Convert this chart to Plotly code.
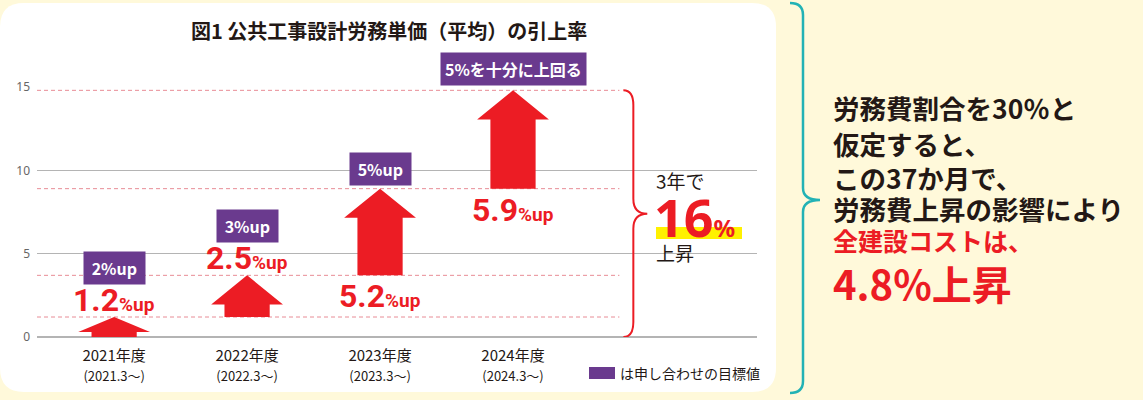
import plotly.graph_objects as go

# data
years = ["2021年度", "2022年度", "2023年度", "2024年度"]
periods = ["(2021.3～)", "(2022.3～)", "(2023.3～)", "(2024.3～)"]
rises = [1.2, 2.5, 5.2, 5.9]
targets = ["2%up", "3%up", "5%up", "5%を十分に上回る"]
total_label = "16"
y_ticks = [0, 5, 10, 15]

RED = "#EC1C24"
PURPLE = "#6A3A8E"
DARK = "#231815"
CJK = "Noto Sans CJK JP, Noto Sans, sans-serif"
NARROW = "Liberation Sans Narrow, Roboto, sans-serif"

# plot area in pixels (for paper-coordinate decorations)
L, R, T, B = 37, 757, 87, 337
Y_MAX = 15


def px(x):
    return (x - L) / (R - L)


def py(y):
    return (B - y) / (B - T)


cum = []
s = 0
for r in rises:
    s = round(s + r, 1)
    cum.append(s)
bases = [0] + cum[:-1]

fig = go.Figure()

# red dashed reference lines at cumulative levels
for c in cum:
    fig.add_trace(go.Scatter(
        x=[-0.58, 3.8], y=[c, c], mode="lines",
        line=dict(color="#E88C96", width=1, dash="4px,3px"),
        hoverinfo="skip", showlegend=False
    ))

# arrows
for i, (b, t) in enumerate(zip(bases, cum)):
    hh = min(1.75, 0.75 * (t - b))
    sw, hw = 0.17, 0.27
    xs = [i - sw, i + sw, i + sw, i + hw, i, i - hw, i - sw, i - sw]
    ys = [b, b, t - hh, t - hh, t, t - hh, t - hh, b]
    fig.add_trace(go.Scatter(
        x=xs, y=ys, fill="toself", fillcolor=RED, mode="lines",
        line=dict(color=RED, width=0), hoverinfo="skip", showlegend=False
    ))

# red value labels
label_pos = ["above", "above", "below", "below"]
for i, r in enumerate(rises):
    if label_pos[i] == "above":
        yy = cum[i] + 1.05
    else:
        yy = bases[i] - 1.25
    fig.add_annotation(
        x=i, y=yy, xref="x", yref="y", showarrow=False,
        xanchor="center", yanchor="middle",
        text="<b>%s</b><b><span style='font-size:19px'>%%up</span></b>" % r,
        font=dict(family=NARROW, size=32, color=RED)
    )

# purple target labels (paper y so the top one is not hidden)
target_offset = [2.93, 2.95, 1.2, 1.25]
for i, tg in enumerate(targets):
    pad = "&nbsp;" if len(tg) < 6 else ""
    fig.add_annotation(
        x=i, y=(cum[i] + target_offset[i]) / Y_MAX, xref="x", yref="paper",
        showarrow=False, xanchor="center", yanchor="middle",
        text="<b>%s%s%s</b>" % (pad, tg, pad), bgcolor=PURPLE, borderpad=4,
        font=dict(family=CJK, size=16, color="white")
    )

# red brace for 3-year total
tot = cum[-1]
mid = tot / 2
x0, x1, x2, rr = 3.83, 3.905, 4.01, 0.9
fig.add_shape(
    type="path", xref="x", yref="y",
    path=("M %f,%f Q %f,%f %f,%f L %f,%f Q %f,%f %f,%f Q %f,%f %f,%f L %f,%f Q %f,%f %f,%f" % (
        x0, tot, x1, tot, x1, tot - rr,
        x1, mid + rr, x1, mid, x2, mid,
        x1, mid, x1, mid - rr,
        x1, 0 + rr, x1, 0, x0, 0)),
    line=dict(color=RED, width=2)
)

# white panel on yellow background
r_px = 24
l0, r0, t0, b0 = 0, 776, 3, 392
fig.add_shape(
    type="path", xref="paper", yref="paper", layer="below",
    path=("M %f,%f L %f,%f Q %f,%f %f,%f L %f,%f Q %f,%f %f,%f L %f,%f Q %f,%f %f,%f L %f,%f Q %f,%f %f,%f Z" % (
        px(l0 + r_px), py(t0), px(r0 - r_px), py(t0), px(r0), py(t0), px(r0), py(t0 + r_px),
        px(r0), py(b0 - r_px), px(r0), py(b0), px(r0 - r_px), py(b0),
        px(l0 + r_px), py(b0), px(l0), py(b0), px(l0), py(b0 - r_px),
        px(l0), py(t0 + r_px), px(l0), py(t0), px(l0 + r_px), py(t0))),
    fillcolor="white", line=dict(width=0)
)

# yellow highlight behind 16%
fig.add_shape(
    type="rect", xref="paper", yref="paper", layer="below",
    x0=px(656), x1=px(742), y0=py(239), y1=py(227),
    fillcolor="#FFF100", line=dict(width=0)
)

# teal brace on the right
tx0, tx1, tx2 = 790, 803, 820
ty0, ty1, tym = 3, 393, 200
fig.add_shape(
    type="path", xref="paper", yref="paper",
    path=("M %f,%f Q %f,%f %f,%f L %f,%f Q %f,%f %f,%f Q %f,%f %f,%f L %f,%f Q %f,%f %f,%f" % (
        px(tx0), py(ty0), px(tx1), py(ty0), px(tx1), py(ty0 + 12),
        px(tx1), py(tym - 12), px(tx1), py(tym), px(tx2), py(tym),
        px(tx1), py(tym), px(tx1), py(tym + 12),
        px(tx1), py(ty1 - 12), px(tx1), py(ty1), px(tx0), py(ty1))),
    line=dict(color="#22B2B5", width=2.5)
)

# legend swatch
fig.add_shape(
    type="rect", xref="paper", yref="paper",
    x0=px(589), x1=px(615), y0=py(379), y1=py(367),
    fillcolor=PURPLE, line=dict(width=0)
)
fig.add_annotation(
    x=px(618), y=py(373), xref="paper", yref="paper", showarrow=False,
    xanchor="left", yanchor="middle", text="は申し合わせの目標値",
    font=dict(family=CJK, size=14, color=DARK)
)

# title
fig.add_annotation(
    x=px(389), y=py(30), xref="paper", yref="paper", showarrow=False,
    xanchor="center", yanchor="middle",
    text="<b>図1 公共工事設計労務単価（平均）の引上率</b>",
    font=dict(family=CJK, size=20, color=DARK)
)

# total annotation
fig.add_annotation(
    x=px(654), y=py(180), xref="paper", yref="paper", showarrow=False,
    xanchor="left", yanchor="middle", text="3年で",
    font=dict(family=CJK, size=19, color=DARK)
)
fig.add_annotation(
    x=px(652), y=py(216), xref="paper", yref="paper", showarrow=False,
    xanchor="left", yanchor="middle",
    text="<b>%s</b><b><span style='font-size:24px'>%%</span></b>" % total_label,
    font=dict(family="Noto Sans, sans-serif", size=52, color=RED)
)
fig.add_annotation(
    x=px(654), y=py(253), xref="paper", yref="paper", showarrow=False,
    xanchor="left", yanchor="middle", text="上昇",
    font=dict(family=CJK, size=19, color=DARK)
)

# right-hand text
right_lines = [
    ("労務費割合を30％と", DARK, 26.5, 108),
    ("仮定すると、", DARK, 26.5, 143),
    ("この37か月で、", DARK, 26.5, 177),
    ("労務費上昇の影響により", DARK, 26.5, 208),
    ("全建設コストは、", RED, 25, 240),
    ("4.8%上昇", RED, 40, 283),
]
for txt, col, sz, yc in right_lines:
    fig.add_annotation(
        x=px(831), y=py(yc), xref="paper", yref="paper", showarrow=False,
        xanchor="left", yanchor="middle", text="<b>%s</b>" % txt,
        font=dict(family=CJK, size=sz, color=col)
    )

fig.update_layout(
    width=1143, height=400,
    margin=dict(l=L, r=1143 - R, t=T, b=400 - B),
    paper_bgcolor="#FFF9DA", plot_bgcolor="rgba(0,0,0,0)",
    showlegend=False,
    xaxis=dict(
        range=[-0.58, 4.835], showgrid=False, zeroline=False,
        tickvals=list(range(len(years))),
        ticktext=["%s<br><span style='font-size:13px'>%s</span>" % (y, p) for y, p in zip(years, periods)],
        tickfont=dict(family=CJK, size=15, color=DARK), ticks="",
        ticklabelstandoff=8
    ),
    yaxis=dict(
        range=[0, Y_MAX], tickvals=y_ticks, showgrid=True,
        gridcolor="#B4B4B4", gridwidth=1, zeroline=True, zerolinecolor="#B4B4B4",
        tickfont=dict(family="Noto Sans, sans-serif", size=12, color="#666666"),
        ticklabelstandoff=6
    ),
)

fig.write_html(
    "out.html",
    config={"displayModeBar": False},
    post_script="document.body.style.margin='0';"
)
